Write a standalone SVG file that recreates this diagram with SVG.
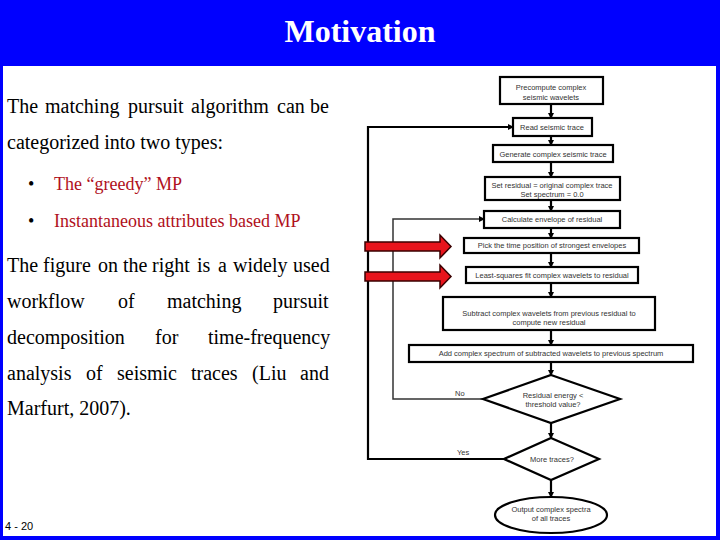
<svg xmlns="http://www.w3.org/2000/svg" width="720" height="540" viewBox="0 0 720 540">
<style>
.body{font-family:"Liberation Serif","Times New Roman",serif;font-size:20px;fill:#000}
.bul{font-family:"Liberation Serif","Times New Roman",serif;font-size:18px;fill:#B01020}
.dot{font-family:"Liberation Serif","Times New Roman",serif;font-size:18px;fill:#000}
.fc{font-family:"Liberation Sans",Arial,sans-serif;font-size:7.5px;fill:#333;text-anchor:middle}
.box{fill:#fff;stroke:#000;stroke-width:2.2}
.ln{fill:none;stroke:#000;stroke-width:2.2}
.ln2{fill:none;stroke:#333;stroke-width:1.5}
.red{fill:#E8141C;stroke:#3a0000;stroke-width:1.5}
</style>
<defs>
<marker id="ah" markerWidth="6" markerHeight="6" refX="5" refY="3" orient="auto" markerUnits="userSpaceOnUse">
<path d="M0,0 L6,3 L0,6 Z" fill="#000"/>
</marker>
</defs>
<rect x="0" y="0" width="720" height="540" fill="#0000FF"/>
<rect x="3" y="66" width="713" height="470" fill="#fff"/>
<text x="360" y="42" text-anchor="middle" font-family="Liberation Serif,'Times New Roman',serif" font-size="32" font-weight="bold" fill="#fff">Motivation</text>

<g id="left-text">
<text class="body" y="113"><tspan x="7">The</tspan><tspan x="45">matching</tspan><tspan x="128">pursuit</tspan><tspan x="191">algorithm</tspan><tspan x="277">can</tspan><tspan x="310">be</tspan></text>
<text class="body" x="7" y="149">categorized into two types:</text>
<text class="dot" x="28" y="190">•</text>
<text class="bul" x="54" y="190">The “greedy” MP</text>
<text class="dot" x="28" y="227">•</text>
<text class="bul" x="54" y="227">Instantaneous attributes based MP</text>
<text class="body" y="272"><tspan x="7">The</tspan><tspan x="43">figure</tspan><tspan x="98">on</tspan><tspan x="123">the</tspan><tspan x="152">right</tspan><tspan x="197">is</tspan><tspan x="218">a</tspan><tspan x="233">widely</tspan><tspan x="293">used</tspan></text>
<text class="body" y="308"><tspan x="7">workflow</tspan><tspan x="118">of</tspan><tspan x="167">matching</tspan><tspan x="273">pursuit</tspan></text>
<text class="body" y="344"><tspan x="7">decomposition</tspan><tspan x="155">for</tspan><tspan x="208">time-frequency</tspan></text>
<text class="body" y="380"><tspan x="7">analysis</tspan><tspan x="86">of</tspan><tspan x="117">seismic</tspan><tspan x="191">traces</tspan><tspan x="252">(Liu</tspan><tspan x="300">and</tspan></text>
<text class="body" x="7" y="415">Marfurt, 2007).</text>
</g>
<text x="5" y="530" font-family="Liberation Sans,Arial,sans-serif" font-size="11" fill="#000">4 - 20</text>

<g id="connectors">
<line class="ln" x1="551" y1="104" x2="551" y2="118" marker-end="url(#ah)"/>
<line class="ln" x1="551" y1="136" x2="551" y2="145" marker-end="url(#ah)"/>
<line class="ln" x1="551" y1="162" x2="551" y2="177" marker-end="url(#ah)"/>
<line class="ln" x1="551" y1="200" x2="551" y2="211" marker-end="url(#ah)"/>
<line class="ln" x1="551" y1="228" x2="551" y2="238" marker-end="url(#ah)"/>
<line class="ln" x1="551" y1="253" x2="551" y2="267" marker-end="url(#ah)"/>
<line class="ln" x1="551" y1="283" x2="551" y2="297" marker-end="url(#ah)"/>
<line class="ln" x1="551" y1="330" x2="551" y2="345" marker-end="url(#ah)"/>
<line class="ln" x1="551" y1="362" x2="551" y2="375" marker-end="url(#ah)"/>
<line class="ln" x1="551" y1="423" x2="551" y2="438" marker-end="url(#ah)"/>
<line class="ln" x1="551" y1="480" x2="551" y2="497" marker-end="url(#ah)"/>
<polyline class="ln" points="504,459 368,459 368,127 513,127" marker-end="url(#ah)"/>
<polyline class="ln2" points="483,399 393,399 393,219 484,219" marker-end="url(#ah)"/>
<text x="455" y="396" font-family="Liberation Sans,Arial,sans-serif" font-size="7.5" fill="#333">No</text>
<text x="457" y="455" font-family="Liberation Sans,Arial,sans-serif" font-size="7.5" fill="#333">Yes</text>
</g>

<g id="n1"><rect class="box" x="500" y="77" width="103" height="27"/><text class="fc" x="551" y="90">Precompute complex</text><text class="fc" x="551" y="100">seismic wavelets</text></g>
<g id="n2"><rect class="box" x="513" y="118" width="79" height="18"/><text class="fc" x="552" y="130">Read seismic trace</text></g>
<g id="n3"><rect class="box" x="493" y="145" width="120" height="17"/><text class="fc" x="553" y="156.5">Generate complex seismic trace</text></g>
<g id="n4"><rect class="box" x="485" y="177" width="135" height="23"/><text class="fc" x="552" y="187.5">Set residual = original complex trace</text><text class="fc" x="552" y="196.5">Set spectrum = 0.0</text></g>
<g id="n5"><rect class="box" x="484" y="211" width="136" height="17"/><text class="fc" x="552" y="222">Calculate envelope of residual</text></g>
<g id="n6"><rect class="box" x="464" y="238" width="175" height="15"/><text class="fc" x="552" y="248">Pick the time position of strongest envelopes</text></g>
<g id="n7"><rect class="box" x="466" y="267" width="172" height="16"/><text class="fc" x="552" y="278">Least-squares fit complex wavelets to residual</text></g>
<g id="n8"><rect class="box" x="443" y="297" width="212" height="33"/><text class="fc" x="549" y="315.5">Subtract complex wavelets from previous residual to</text><text class="fc" x="549" y="324.5">compute new residual</text></g>
<g id="n9"><rect class="box" x="409" y="345" width="284" height="17"/><text class="fc" x="551" y="356">Add complex spectrum of subtracted wavelets to previous spectrum</text></g>
<g id="d1"><polygon class="box" points="551,375 620,399 551,423 483,399"/><text class="fc" x="553" y="397.5">Residual energy &lt;</text><text class="fc" x="553" y="407">threshold value?</text></g>
<g id="d2"><polygon class="box" points="551,438 599,459 551,480 504,459"/><text class="fc" x="552" y="461.5">More traces?</text></g>
<g id="n10"><ellipse class="box" cx="551" cy="515" rx="56" ry="18"/><text class="fc" x="551" y="511.5">Output complex spectra</text><text class="fc" x="551" y="520.5">of all traces</text></g>

<g id="red-arrows">
<polygon class="red" points="365,242 440,242 440,235 451,246.5 440,258 440,251 365,251"/>
<polygon class="red" points="365,272 440,272 440,265 451,276.5 440,288 440,281 365,281"/>
</g>
</svg>
